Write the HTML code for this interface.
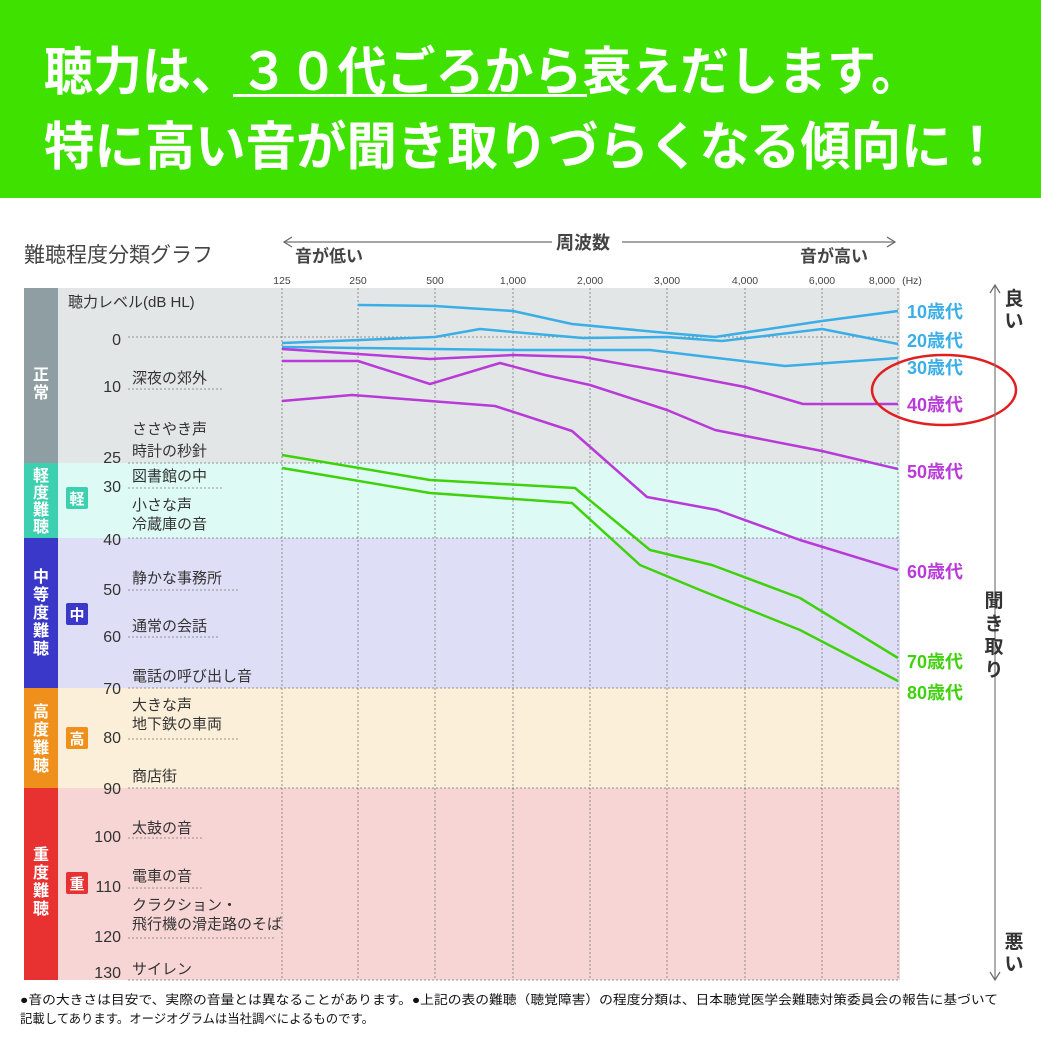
<!DOCTYPE html>
<html><head><meta charset="utf-8"><style>
html,body{margin:0;padding:0;background:#fff;}
svg{display:block;font-family:"Liberation Sans","Noto Sans CJK JP",sans-serif;}
</style></head><body>
<svg width="1041" height="1040" viewBox="0 0 1041 1040" xmlns="http://www.w3.org/2000/svg">
<rect x="0" y="0" width="1041" height="198" fill="#3fe100"/>
<g fill="#fff" font-weight="bold" font-size="52">
<text x="44" y="90" textLength="876" lengthAdjust="spacingAndGlyphs">聴力は、３０代ごろから衰えだします。</text>
<text x="44" y="165" textLength="958" lengthAdjust="spacingAndGlyphs">特に高い音が聞き取りづらくなる傾向に！</text>
</g>
<rect x="233" y="94" width="354" height="3" fill="#fff"/>

<text x="24" y="262" font-size="21" fill="#444">難聴程度分類グラフ</text>
<line x1="284" y1="242" x2="895" y2="242" stroke="#888" stroke-width="1.5"/>
<path d="M292 237 L284 242 L292 247 M887 237 L895 242 L887 247" stroke="#666" fill="none" stroke-width="1.2"/>
<rect x="552" y="230" width="70" height="24" fill="#fff"/>
<text x="556" y="249" font-size="18" font-weight="bold" fill="#444">周波数</text>
<text x="295" y="262" font-size="17" font-weight="bold" fill="#444">音が低い</text>
<text x="800" y="262" font-size="17" font-weight="bold" fill="#444">音が高い</text>
<g font-size="10.5" fill="#444" text-anchor="middle">
<text x="282" y="284">125</text><text x="358" y="284">250</text><text x="435" y="284">500</text><text x="513" y="284">1,000</text><text x="590" y="284">2,000</text><text x="667" y="284">3,000</text><text x="745" y="284">4,000</text><text x="822" y="284">6,000</text><text x="882" y="284">8,000</text><text x="912" y="284">(Hz)</text>
</g>

<rect x="58" y="288" width="842" height="175" fill="#e3e6e6"/>
<rect x="58" y="463" width="842" height="75" fill="#ddfbf4"/>
<rect x="58" y="538" width="842" height="150" fill="#dedff6"/>
<rect x="58" y="688" width="842" height="100" fill="#fcefd9"/>
<rect x="58" y="788" width="842" height="192" fill="#f8d5d5"/>
<rect x="24" y="288" width="34" height="175" fill="#8e9ea3"/>
<rect x="24" y="463" width="34" height="75" fill="#3dd0b0"/>
<rect x="24" y="538" width="34" height="150" fill="#3a38c8"/>
<rect x="24" y="688" width="34" height="100" fill="#f0901c"/>
<rect x="24" y="788" width="34" height="192" fill="#e83232"/>
<g fill="#fff" font-size="16" font-weight="bold" text-anchor="middle">
<text x="41" y="380">正</text><text x="41" y="398">常</text>
<text x="41" y="481">軽</text><text x="41" y="498">度</text><text x="41" y="515">難</text><text x="41" y="532">聴</text>
<text x="41" y="582">中</text><text x="41" y="600">等</text><text x="41" y="618">度</text><text x="41" y="636">難</text><text x="41" y="654">聴</text>
<text x="41" y="717">高</text><text x="41" y="735">度</text><text x="41" y="753">難</text><text x="41" y="771">聴</text>
<text x="41" y="860">重</text><text x="41" y="878">度</text><text x="41" y="896">難</text><text x="41" y="914">聴</text>
</g>
<rect x="66" y="487" width="22" height="22" rx="2" fill="#3dd0b0"/>
<rect x="66" y="603" width="22" height="22" rx="2" fill="#3a38c8"/>
<rect x="66" y="727" width="22" height="22" rx="2" fill="#f0901c"/>
<rect x="66" y="872" width="22" height="22" rx="2" fill="#e83232"/>
<g fill="#fff" font-size="15" font-weight="bold" text-anchor="middle">
<text x="77" y="504">軽</text><text x="77" y="620">中</text><text x="77" y="744">高</text><text x="77" y="889">重</text>
</g>

<g stroke="#777" stroke-width="0.8" stroke-dasharray="2,2">
<line x1="282" y1="288" x2="282" y2="980"/><line x1="358" y1="288" x2="358" y2="980"/><line x1="435" y1="288" x2="435" y2="980"/><line x1="513" y1="288" x2="513" y2="980"/><line x1="590" y1="288" x2="590" y2="980"/><line x1="667" y1="288" x2="667" y2="980"/><line x1="745" y1="288" x2="745" y2="980"/><line x1="822" y1="288" x2="822" y2="980"/><line x1="898" y1="288" x2="898" y2="980"/>
<line x1="128" y1="337" x2="898" y2="337"/>
<line x1="128" y1="389" x2="222" y2="389"/>
<line x1="128" y1="463" x2="898" y2="463"/>
<line x1="128" y1="488" x2="222" y2="488"/>
<line x1="128" y1="538" x2="898" y2="538"/>
<line x1="128" y1="590" x2="240" y2="590"/>
<line x1="128" y1="637" x2="220" y2="637"/>
<line x1="128" y1="688" x2="898" y2="688"/>
<line x1="128" y1="739" x2="240" y2="739"/>
<line x1="128" y1="788" x2="898" y2="788"/>
<line x1="128" y1="838" x2="202" y2="838"/>
<line x1="128" y1="888" x2="204" y2="888"/>
<line x1="128" y1="938" x2="276" y2="938"/>
<line x1="128" y1="980" x2="898" y2="980"/>
</g>
<g font-size="16" fill="#333" text-anchor="end">
<text x="121" y="345">0</text><text x="121" y="392">10</text><text x="121" y="463">25</text><text x="121" y="492">30</text><text x="121" y="545">40</text><text x="121" y="595">50</text><text x="121" y="642">60</text><text x="121" y="694">70</text><text x="121" y="743">80</text><text x="121" y="794">90</text><text x="121" y="842">100</text><text x="121" y="892">110</text><text x="121" y="942">120</text><text x="121" y="978">130</text>
</g>
<g font-size="15" fill="#333">
<text x="68" y="307">聴力レベル(dB HL)</text>
<text x="132" y="383">深夜の郊外</text>
<text x="132" y="434">ささやき声</text><text x="132" y="456">時計の秒針</text>
<text x="132" y="481">図書館の中</text>
<text x="132" y="510">小さな声</text><text x="132" y="529">冷蔵庫の音</text>
<text x="132" y="583">静かな事務所</text>
<text x="132" y="631">通常の会話</text>
<text x="132" y="681">電話の呼び出し音</text>
<text x="132" y="710">大きな声</text><text x="132" y="729">地下鉄の車両</text>
<text x="132" y="781">商店街</text>
<text x="132" y="833">太鼓の音</text>
<text x="132" y="881">電車の音</text>
<text x="132" y="910">クラクション・</text><text x="132" y="929">飛行機の滑走路のそば</text>
<text x="132" y="974">サイレン</text>
</g>

<g fill="none" stroke-width="2.5" stroke-linejoin="round">
<polyline stroke="#3aaee6" points="358,305 435,306 513,311 572,324 667,333 715,337 822,321 898,311"/>
<polyline stroke="#3aaee6" points="282,343 435,337 480,329 513,332 583,338 667,337 722,341 822,329 898,344"/>
<polyline stroke="#3aaee6" points="282,347 358,348 435,349 513,350 650,350 700,356 785,366 898,358"/>
<polyline stroke="#b83ad8" points="282,349 358,354 430,359 513,355 583,357 667,372 745,387 803,404 898,404"/>
<polyline stroke="#b83ad8" points="282,361 358,361 430,384 500,363 545,375 590,385 667,410 715,430 822,451 898,469"/>
<polyline stroke="#b83ad8" points="282,401 352,395 430,401 495,406 572,431 647,497 717,510 800,540 898,570"/>
<polyline stroke="#3fd20c" points="282,455 430,480 575,488 650,550 712,565 800,598 898,658"/>
<polyline stroke="#3fd20c" points="282,468 430,493 572,503 640,565 700,590 800,630 898,681"/>
</g>
<g font-size="18" font-weight="bold">
<text x="907" y="318" fill="#3aaee6">10歳代</text>
<text x="907" y="347" fill="#3aaee6">20歳代</text>
<text x="907" y="374" fill="#3aaee6">30歳代</text>
<text x="907" y="411" fill="#b83ad8">40歳代</text>
<text x="907" y="478" fill="#b83ad8">50歳代</text>
<text x="907" y="578" fill="#b83ad8">60歳代</text>
<text x="907" y="668" fill="#3fd20c">70歳代</text>
<text x="907" y="699" fill="#3fd20c">80歳代</text>
</g>
<ellipse cx="944" cy="390" rx="72" ry="35" fill="none" stroke="#e02020" stroke-width="2.5"/>

<line x1="995" y1="286" x2="995" y2="980" stroke="#777" stroke-width="1.2"/>
<path d="M990 293 L995 285 L1000 293 M990 972 L995 980 L1000 972" stroke="#666" fill="none" stroke-width="1.2"/>
<g font-size="19" font-weight="bold" fill="#333" text-anchor="middle">
<text x="1014" y="305">良</text><text x="1014" y="327">い</text>
<text x="994" y="607">聞</text><text x="994" y="630">き</text><text x="994" y="653">取</text><text x="994" y="676">り</text>
<text x="1014" y="948">悪</text><text x="1014" y="970">い</text>
</g>

<g font-size="12.5" fill="#111">
<text x="20" y="1004" textLength="978" lengthAdjust="spacingAndGlyphs">●音の大きさは目安で、実際の音量とは異なることがあります。●上記の表の難聴（聴覚障害）の程度分類は、日本聴覚医学会難聴対策委員会の報告に基づいて</text>
<text x="20" y="1023" textLength="354" lengthAdjust="spacingAndGlyphs">記載してあります。オージオグラムは当社調べによるものです。</text>
</g>
</svg>
</body></html>
